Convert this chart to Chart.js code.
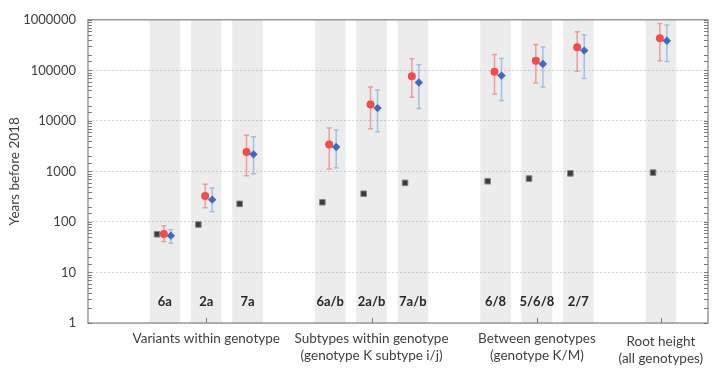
<!DOCTYPE html>
<html lang="en">
<head>
    <meta charset="UTF-8">
    <title>Years before 2018</title>
    <script src="https://cdn.jsdelivr.net/npm/chart.js"></script>
    <style>
        body {
            margin: 0;
            padding: 0;
            background: #ffffff;
        }
        canvas {
            display: block;
        }
    </style>
</head>
<body>
    <canvas id="age-chart" width="716" height="369"></canvas>

    <script>
        // Clade labels and their slot on the x axis (gaps between groups)
        const cladeLabels = ['6a', '2a', '7a', '6a/b', '2a/b', '7a/b', '6/8', '5/6/8', '2/7', ''];
        const cladeSlots = [1, 2, 3, 5, 6, 7, 9, 10, 11, 13];

        // Group captions under the axis
        const groupSlots = [2, 6, 10, 13];
        const groupLabels = [
            ['Variants within genotype'],
            ['Subtypes within genotype', '(genotype K subtype i/j)'],
            ['Between genotypes', '(genotype K/M)'],
            ['Root height', '(all genotypes)']
        ];

        // Grey squares
        const squareValues = [57, 89, 228, 245, 361, 593, 639, 720, 915, 944];

        // Red circles with intervals
        const redValues = [58, 326, 2420, 3400, 21100, 76600, 94200, 154000, 285000, 432000];
        const redLow = [41, 190, 824, 1110, 6980, 29300, 34100, 56000, 95700, 154000];
        const redHigh = [84, 558, 5190, 7200, 46700, 168600, 205700, 326000, 578000, 848000];

        // Blue diamonds with intervals
        const blueValues = [53.5, 276, 2176, 3030, 17900, 57500, 78700, 133000, 246000, 385000];
        const blueLow = [38, 159, 902, 1178, 6100, 17650, 25300, 46800, 68800, 150000];
        const blueHigh = [70, 467, 4870, 6580, 40800, 128800, 171800, 289000, 504000, 788000];

        const FONT = 'Lato, "Open Sans", sans-serif';
        const TEXT = '#404040';

        // small sideways shift of each series inside its band
        const shiftSquare = -0.19;
        const shiftRed = -0.025;
        const shiftBlue = 0.145;

        function points(values, shift) {
            return values.map((v, i) => ({ x: cladeSlots[i] + shift, y: v }));
        }

        const errorBars = {
            2: { low: redLow, high: redHigh, color: 'rgba(240, 110, 110, 0.65)', shift: shiftRed },
            3: { low: blueLow, high: blueHigh, color: 'rgba(120, 170, 215, 0.65)', shift: shiftBlue }
        };

        const decorPlugin = {
            id: 'decor',
            beforeDatasetDraw(chart, args) {
                const bars = errorBars[args.index];
                if (!bars) return;
                const ctx = chart.ctx;
                const xs = chart.scales.x, ys = chart.scales.y;
                ctx.save();
                ctx.strokeStyle = bars.color;
                ctx.lineWidth = 1.5;
                bars.low.forEach((lo, i) => {
                    const x = xs.getPixelForValue(cladeSlots[i] + bars.shift);
                    const y1 = ys.getPixelForValue(lo);
                    const y2 = ys.getPixelForValue(bars.high[i]);
                    ctx.beginPath();
                    ctx.moveTo(x, y1);
                    ctx.lineTo(x, y2);
                    ctx.moveTo(x - 2.5, y1);
                    ctx.lineTo(x + 2.5, y1);
                    ctx.moveTo(x - 2.5, y2);
                    ctx.lineTo(x + 2.5, y2);
                    ctx.stroke();
                });
                ctx.restore();
            },
            afterDraw(chart) {
                const ctx = chart.ctx;
                const area = chart.chartArea;
                const xs = chart.scales.x, ys = chart.scales.y;
                ctx.save();

                // frame
                ctx.strokeStyle = '#8c8c8c';
                ctx.lineWidth = 1.3;
                ctx.strokeRect(area.left, area.top, area.right - area.left, area.bottom - area.top);

                // inward ticks on both vertical edges
                ctx.lineWidth = 1;
                ctx.strokeStyle = '#7a7a7a';
                ys.ticks.forEach(t => {
                    const y = Math.round(ys.getPixelForValue(t.value)) + 0.5;
                    ctx.beginPath();
                    ctx.moveTo(area.left, y);
                    ctx.lineTo(area.left + 4, y);
                    ctx.moveTo(area.right, y);
                    ctx.lineTo(area.right - 4, y);
                    ctx.stroke();
                });

                // group ticks on the bottom axis
                groupSlots.forEach(s => {
                    const x = Math.round(xs.getPixelForValue(s)) + 0.5;
                    ctx.beginPath();
                    ctx.moveTo(x, area.bottom);
                    ctx.lineTo(x, area.bottom - 5);
                    ctx.stroke();
                });

                // clade names inside the bands
                ctx.fillStyle = '#262626';
                ctx.font = 'bold 13px ' + FONT;
                ctx.textAlign = 'center';
                ctx.textBaseline = 'middle';
                cladeLabels.forEach((lab, i) => {
                    ctx.fillText(lab, xs.getPixelForValue(cladeSlots[i]), area.bottom - 21);
                });

                // group captions
                ctx.fillStyle = TEXT;
                ctx.font = '13.5px ' + FONT;
                groupLabels.forEach((lines, g) => {
                    const x = xs.getPixelForValue(groupSlots[g]);
                    const top = g === 3 ? area.bottom + 19 : area.bottom + 16;
                    lines.forEach((line, k) => ctx.fillText(line, x, top + k * 17));
                });

                // y title
                ctx.translate(15, (area.top + area.bottom) / 2);
                ctx.rotate(-Math.PI / 2);
                ctx.font = '13.5px ' + FONT;
                ctx.fillText('Years before 2018', 0, 0);
                ctx.restore();
            }
        };

        const ctx = document.getElementById('age-chart').getContext('2d');
        const ageChart = new Chart(ctx, {
            type: 'scatter',
            data: {
                datasets: [
                    {
                        type: 'bar',
                        data: cladeSlots.map(s => ({ x: s, y: [1, 1000000] })),
                        backgroundColor: 'rgba(0, 0, 0, 0.075)',
                        barThickness: 30,
                        order: 4
                    },
                    {
                        data: points(squareValues, shiftSquare),
                        pointStyle: 'rect',
                        pointRadius: 4,
                        backgroundColor: '#3c3c3c',
                        borderColor: '#8a8a8a',
                        borderWidth: 1,
                        order: 3
                    },
                    {
                        data: points(redValues, shiftRed),
                        pointStyle: 'circle',
                        pointRadius: 4,
                        backgroundColor: '#f44b4b',
                        borderColor: '#f44b4b',
                        borderWidth: 0,
                        order: 2
                    },
                    {
                        data: points(blueValues, shiftBlue),
                        pointStyle: 'rectRot',
                        pointRadius: 4.2,
                        backgroundColor: '#3a6cc6',
                        borderColor: '#3a6cc6',
                        borderWidth: 0,
                        order: 1
                    }
                ]
            },
            options: {
                responsive: false,
                animation: false,
                devicePixelRatio: 1,
                layout: { padding: { top: 3.2, right: 8, bottom: 46, left: 11.2 } },
                plugins: {
                    legend: { display: false },
                    tooltip: { enabled: false }
                },
                scales: {
                    x: {
                        type: 'linear',
                        min: -0.86,
                        max: 14.14,
                        offset: false,
                        display: false
                    },
                    y: {
                        type: 'logarithmic',
                        min: 1,
                        max: 1000000,
                        border: { display: false, dash: [2, 2] },
                        grid: {
                            drawTicks: false,
                            lineWidth: 1,
                            color: c => {
                                const e = Math.log10(c.tick.value);
                                return Math.abs(e - Math.round(e)) < 1e-9 ? '#d4d4d4' : 'rgba(0,0,0,0)';
                            }
                        },
                        ticks: {
                            autoSkip: false,
                            padding: 12,
                            color: TEXT,
                            font: { family: FONT, size: 13 },
                            callback: v => {
                                const e = Math.log10(v);
                                return Math.abs(e - Math.round(e)) < 1e-9 ? String(Math.round(v)) : '';
                            }
                        }
                    }
                }
            },
            plugins: [decorPlugin]
        });
    </script>
</body>
</html>
